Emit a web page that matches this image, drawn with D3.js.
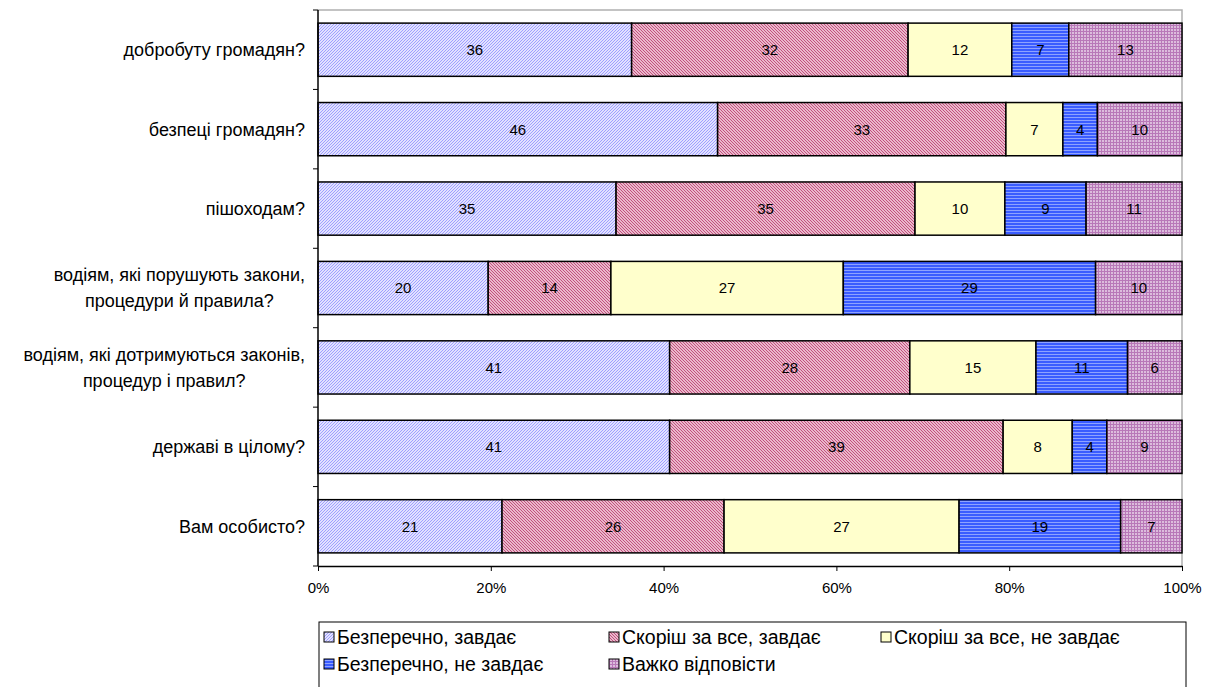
<!DOCTYPE html>
<html>
<head>
<meta charset="utf-8">
<script src="https://cdn.jsdelivr.net/npm/d3@7"></script>
<style>
  body { margin: 0; background: #fff; }
  text { font-family: "Liberation Sans", Arial, sans-serif; }
</style>
</head>
<body>
<div id="chart"></div>
<script>
// categories, top to bottom
var categories = [
  "добробуту громадян?",
  "безпеці громадян?",
  "пішоходам?",
  "водіям, які порушують закони,|процедури й правила?",
  "водіям, які дотримуються законів,|процедур і правил?",
  "державі в цілому?",
  "Вам особисто?"
];

var seriesNames = ["Безперечно, завдає", "Скоріш за все, завдає", "Скоріш за все, не завдає",
                   "Безперечно, не завдає", "Важко відповісти"];

// values (labels are the rounded numbers)
var s1 = [36.3, 46.3, 34.5, 19.7, 40.7, 40.7, 21.3];
var s2 = [32.0, 33.4, 34.6, 14.2, 27.8, 38.6, 25.7];
var s3 = [12.0, 6.6, 10.4, 26.9, 14.6, 8.0, 27.2];
var s4 = [6.6, 4.0, 9.4, 29.2, 10.6, 4.0, 18.7];
var s5 = [13.1, 9.8, 11.1, 10.0, 6.3, 8.7, 7.1];

var xTicks = [0, 0.2, 0.4, 0.6, 0.8, 1];

var allSeries = [s1, s2, s3, s4, s5];

var svg_width = 1212, svg_height = 687;
var margin = { top: 10, left: 318, right: 30, bottom: 121 };
var width = svg_width - margin.left - margin.right;
var height = svg_height - margin.top - margin.bottom;

var svg = d3.select("#chart").append("svg")
  .attr("width", svg_width)
  .attr("height", svg_height);

// hatch patterns like the excel fills
var defs = svg.append("defs");

var p1 = defs.append("pattern").attr("id", "pat0").attr("patternUnits", "userSpaceOnUse")
  .attr("width", 3).attr("height", 3);
p1.append("rect").attr("width", 3).attr("height", 3).attr("fill", "#ffffff");
p1.append("path").attr("d", "M0,3 L3,0 M-1,1 L1,-1 M2,4 L4,2").attr("stroke", "#9a9aff").attr("stroke-width", 1.1);

var p2 = defs.append("pattern").attr("id", "pat1").attr("patternUnits", "userSpaceOnUse")
  .attr("width", 3).attr("height", 3);
p2.append("rect").attr("width", 3).attr("height", 3).attr("fill", "#fbe6ee");
p2.append("path").attr("d", "M0,0 L3,3 M-1,2 L1,4 M2,-1 L4,1").attr("stroke", "#c04878").attr("stroke-width", 1.1);

var p3 = defs.append("pattern").attr("id", "pat2").attr("patternUnits", "userSpaceOnUse")
  .attr("width", 4).attr("height", 4);
p3.append("rect").attr("width", 4).attr("height", 4).attr("fill", "#ffffcc");

var p4 = defs.append("pattern").attr("id", "pat3").attr("patternUnits", "userSpaceOnUse")
  .attr("width", 4).attr("height", 3);
p4.append("rect").attr("width", 4).attr("height", 3).attr("fill", "#3a5cff");
p4.append("rect").attr("y", 2).attr("width", 4).attr("height", 1).attr("fill", "#8ea2ff");

var p5 = defs.append("pattern").attr("id", "pat4").attr("patternUnits", "userSpaceOnUse")
  .attr("width", 3).attr("height", 3);
p5.append("rect").attr("width", 3).attr("height", 3).attr("fill", "#b878b8");
p5.append("rect").attr("x", 1).attr("y", 1).attr("width", 2).attr("height", 2).attr("fill", "#dcbcdc");

var g = svg.append("g").attr("transform", `translate(${margin.left}, ${margin.top})`);

var x_scale = d3.scaleLinear().domain([0, 1]).range([0, width]);
var y_scale = d3.scaleBand().domain(categories).range([0, height]).paddingInner(0.33).paddingOuter(0.165);

// plot area border (top and right)
g.append("path")
  .attr("d", `M0,0 H${width} V${height}`)
  .attr("fill", "none").attr("stroke", "#b0b0b0").attr("stroke-width", 1.5);

// stack data with normalized shares
var rows = categories.map(function(c, i) {
  var total = 0;
  allSeries.forEach(function(s) { total += s[i]; });
  var row = { cat: c };
  allSeries.forEach(function(s, k) { row["k" + k] = s[i] / total; row["v" + k] = s[i]; });
  return row;
});
var stack = d3.stack().keys(["k0", "k1", "k2", "k3", "k4"]);
var layers = stack(rows);

layers.forEach(function(layer, k) {
  var lg = g.append("g");
  lg.selectAll("rect").data(layer).enter().append("rect")
    .attr("x", function(d) { return x_scale(d[0]); })
    .attr("y", function(d) { return y_scale(d.data.cat); })
    .attr("width", function(d) { return x_scale(d[1]) - x_scale(d[0]); })
    .attr("height", y_scale.bandwidth())
    .attr("fill", "url(#pat" + k + ")")
    .attr("stroke", "#000").attr("stroke-width", 1.5);
  lg.selectAll("text").data(layer).enter().append("text")
    .attr("x", function(d) { return (x_scale(d[0]) + x_scale(d[1])) / 2; })
    .attr("y", function(d) { return y_scale(d.data.cat) + y_scale.bandwidth() / 2; })
    .attr("dy", "0.36em")
    .attr("text-anchor", "middle")
    .attr("font-size", 15)
    .attr("fill", "#000")
    .text(function(d) { return Math.round(d.data["v" + k]); });
});

// y axis: line + ticks between categories
g.append("line").attr("x1", 0).attr("x2", 0).attr("y1", 0).attr("y2", height)
  .attr("stroke", "#000").attr("stroke-width", 1.5);
var step = y_scale.step();
for (var i = 0; i <= categories.length; i++) {
  var ty = y_scale(categories[0]) - y_scale.step() * y_scale.paddingOuter() + i * step;
  g.append("line").attr("x1", -5).attr("x2", 0).attr("y1", ty).attr("y2", ty)
    .attr("stroke", "#000").attr("stroke-width", 1);
}

// category labels
categories.forEach(function(c) {
  var lines = c.split("|");
  var cy = y_scale(c) + y_scale.bandwidth() / 2;
  var t = g.append("text")
    .attr("text-anchor", "middle")
    .attr("font-size", 18)
    .attr("fill", "#000");
  lines.forEach(function(l, j) {
    t.append("tspan").attr("x", 0)
      .attr("y", cy + (j - (lines.length - 1) / 2) * 26)
      .attr("dy", "0.36em")
      .text(l);
  });
  var w = t.node().getBBox().width;
  t.selectAll("tspan").attr("x", -13 - w / 2);
});

// x axis
var x_axis = d3.axisBottom(x_scale).tickValues(xTicks).tickFormat(d3.format(".0%")).tickSize(5).tickSizeOuter(0);
var xa = g.append("g").attr("transform", `translate(0, ${height})`).call(x_axis);
xa.select(".domain").attr("stroke-width", 1.5);
xa.selectAll("text").attr("font-size", 15).attr("font-family", "Liberation Sans, Arial, sans-serif").attr("dy", "1.25em").attr("fill", "#000");

// legend
var legend = svg.append("g").attr("transform", "translate(319, 622)");
legend.append("rect").attr("width", 867).attr("height", 80)
  .attr("fill", "#fff").attr("stroke", "#000").attr("stroke-width", 1);
var legX = [5, 290, 562];
var legY = [15, 42];
seriesNames.forEach(function(name, k) {
  var col = k < 3 ? k : k - 3;
  var row = k < 3 ? 0 : 1;
  var item = legend.append("g").attr("transform", `translate(${legX[col]}, ${legY[row]})`);
  item.append("rect").attr("x", 0).attr("y", -5).attr("width", 10).attr("height", 10)
    .attr("fill", "url(#pat" + k + ")").attr("stroke", "#000").attr("stroke-width", 1);
  item.append("text").attr("x", 13).attr("y", 0).attr("dy", "0.36em")
    .attr("font-size", 19.5).attr("fill", "#000").text(name);
});
</script>
</body>
</html>
